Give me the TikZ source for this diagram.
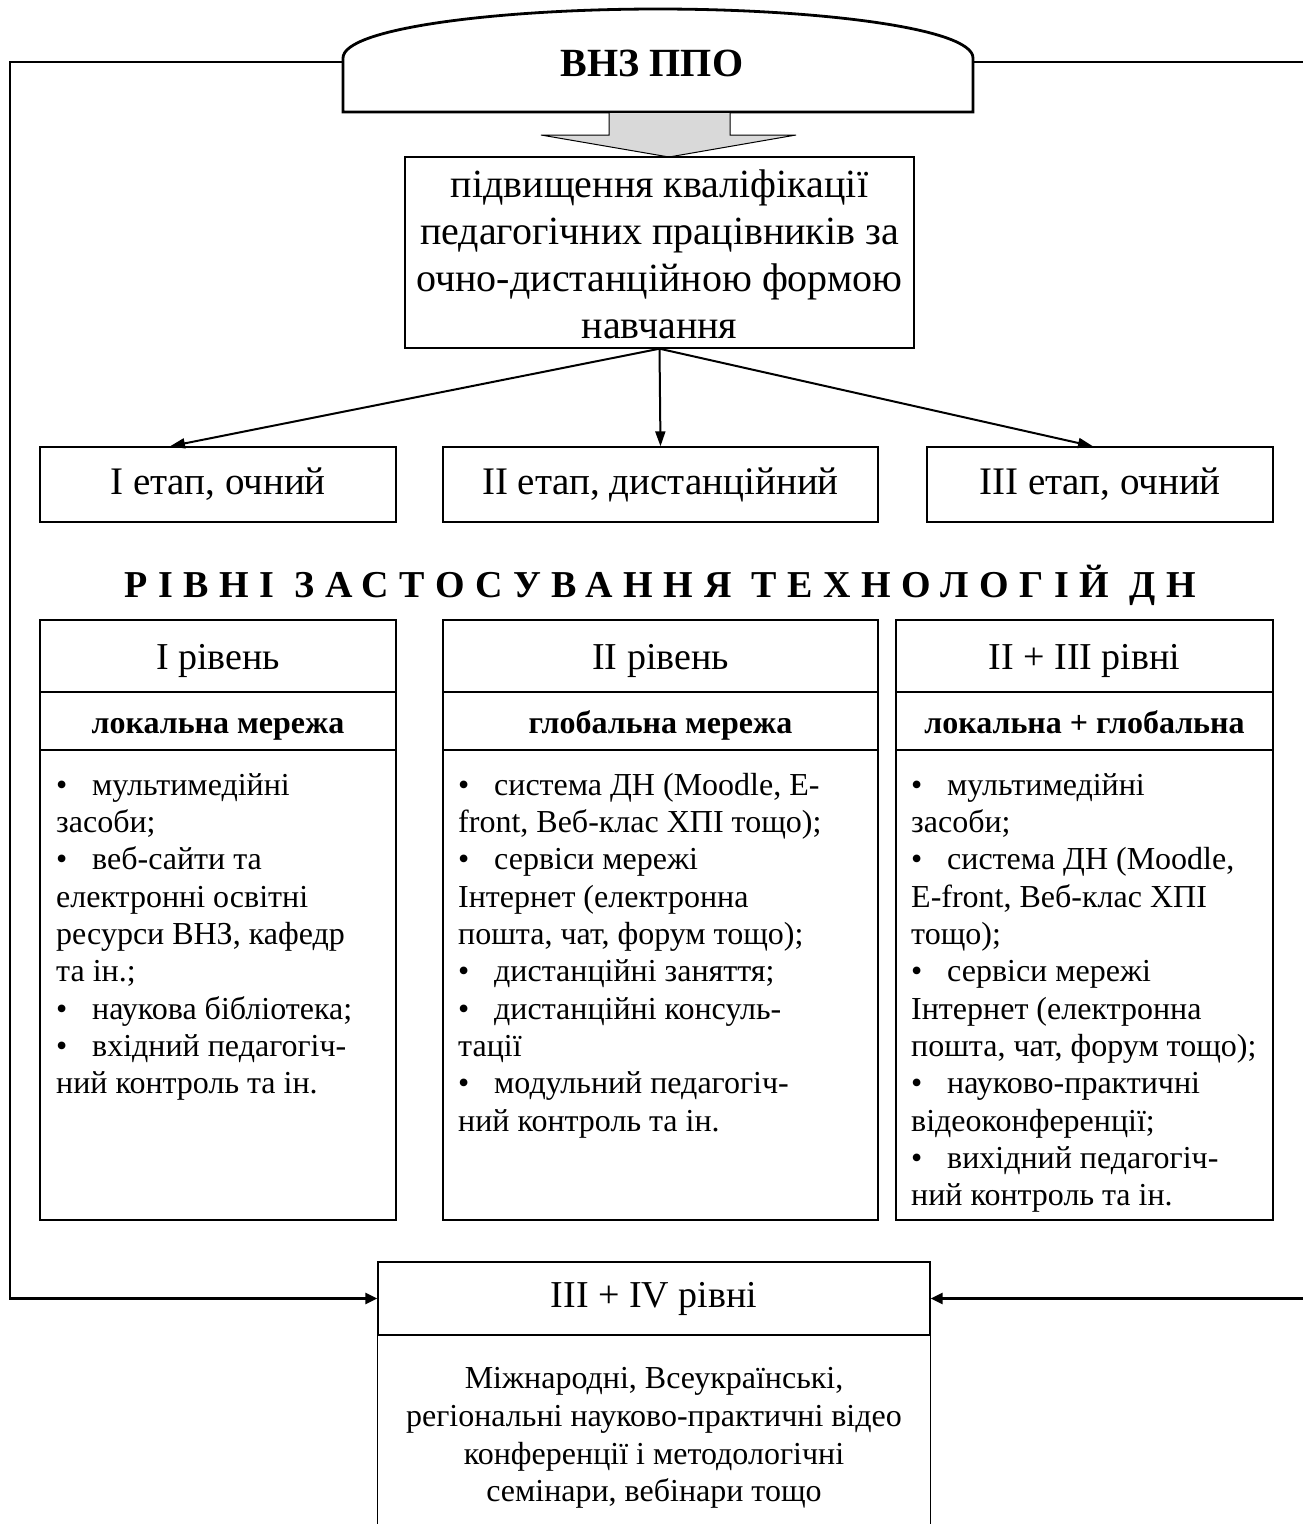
\documentclass[tikz,border=0pt]{standalone}
\usepackage{fontspec}
\setmainfont{Liberation Serif}
\usetikzlibrary{arrows.meta,calc}
\tikzset{
  boxnode/.style={draw, line width=1.4pt, inner sep=0pt, align=center},
  bigtxt/.style={font=\fontsize{39}{47}\selectfont},
  headtxt/.style={font=\fontsize{38}{44}\selectfont, inner sep=0pt, anchor=base},
  subtxt/.style={font=\fontsize{32}{36}\selectfont\bfseries, inner sep=0pt, anchor=base},
  listtxt/.style={font=\fontsize{32}{37.3}\selectfont, inner sep=0pt, align=left, anchor=north west},
  divline/.style={line width=1.4pt},
  fanarrow/.style={line width=2pt, -{Triangle[length=15pt,width=10pt]}},
  loopline/.style={line width=2.6pt, -{Triangle[length=12pt,width=11pt]}},
}
\newcommand{\bul}{\makebox[36pt][l]{•}}
\begin{document}
\begin{tikzpicture}[x=1pt,y=-1pt]
\useasboundingbox[fill=white] (0,0) rectangle (1303,1524);

% dome "ВНЗ ППО"
\draw[line width=2.8pt, fill=white] (343,112) -- (343,58)
  .. controls (343,28) and (500,9) .. (658,9)
  .. controls (816,9) and (973,28) .. (973,58) -- (973,112) -- cycle;
\coordinate (domeL) at (343,62);
\coordinate (domeR) at (973,62);
\node[font=\fontsize{40}{46}\selectfont\bfseries, inner sep=0pt] (vnz) at (652,63) {ВНЗ ППО};

% gray block arrow
\draw[line width=1pt, fill=black!15] (609,113) -- (609,135) -- (541,135) -- (669,157)
  -- (796,135) -- (730,135) -- (730,113);

% main box
\node[boxnode, minimum width=509pt, minimum height=191pt] (main) at (659.5,252.5) {};
\node[font=\fontsize{40}{47}\selectfont, inner sep=0pt, align=center] (maintxt) at (659.5,254)
  {підвищення кваліфікації\\педагогічних працівників за\\очно-дистанційною формою\\навчання};

% stages
\node[boxnode, bigtxt, minimum width=356pt, minimum height=75pt] (s1) at (218,484.5) {І етап, очний};
\node[boxnode, bigtxt, minimum width=435pt, minimum height=75pt] (s2) at (660.5,484.5) {ІІ етап, дистанційний};
\node[boxnode, bigtxt, minimum width=346pt, minimum height=75pt] (s3) at (1100,484.5) {ІІІ етап, очний};

\draw[fanarrow] (main.south) -- ([xshift=-48pt]s1.north);
\draw[fanarrow] (main.south) -- (s2.north);
\draw[fanarrow] (main.south) -- ([xshift=-7pt]s3.north);

% heading
\node[inner sep=0pt] (head) at (660,585)
  {\fontsize{38}{44}\selectfont\bfseries\addfontfeature{LetterSpace=28}РІВНІ ЗАСТОСУВАННЯ ТЕХНОЛОГІЙ ДН};

% level boxes
\node[boxnode, minimum width=356pt, minimum height=600pt] (L1) at (218,920) {};
\node[boxnode, minimum width=435pt, minimum height=600pt] (L2) at (660.5,920) {};
\node[boxnode, minimum width=377pt, minimum height=600pt] (L3) at (1084.5,920) {};

\foreach \b in {L1,L2,L3}{
  \draw[divline] (\b.west |- 0,692) -- (\b.east |- 0,692);
  \draw[divline] (\b.west |- 0,750) -- (\b.east |- 0,750);
}

\node[headtxt] (L1h) at (218,669) {І рівень};
\node[headtxt] (L2h) at (660.5,669) {ІІ рівень};
\node[headtxt] (L3h) at (1084.5,669) {ІІ + ІІІ рівні};

\node[subtxt] (L1s) at (218,733) {локальна мережа};
\node[subtxt] (L2s) at (660.5,733) {глобальна мережа};
\node[subtxt] (L3s) at (1084.5,733) {локальна + глобальна};

\node[listtxt] (L1t) at (56,769) {\strut\bul мультимедійні\\
засоби;\\
\bul веб-сайти та\\
електронні освітні\\
ресурси ВНЗ, кафедр\\
та ін.;\\
\bul наукова бібліотека;\\
\bul вхідний педагогіч-\\
ний контроль та ін.};

\node[listtxt] (L2t) at (458,769) {\strut\bul система ДН (Moodle, Е-\\
front, Веб-клас ХПІ тощо);\\
\bul сервіси мережі\\
Інтернет (електронна\\
пошта, чат, форум тощо);\\
\bul дистанційні заняття;\\
\bul дистанційні консуль-\\
тації\\
\bul модульний педагогіч-\\
ний контроль та ін.};

\node[listtxt] (L3t) at (911,769) {\strut\bul мультимедійні\\
засоби;\\
\bul система ДН (Moodle,\\
E-front, Веб-клас ХПІ\\
тощо);\\
\bul сервіси мережі\\
Інтернет (електронна\\
пошта, чат, форум тощо);\\
\bul науково-практичні\\
відеоконференції;\\
\bul вихідний педагогіч-\\
ний контроль та ін.};

% bottom box (open at the bottom edge)
\node[boxnode, font=\fontsize{38}{44}\selectfont, minimum width=552pt, minimum height=73pt] (B) at (654,1298.5) {ІІІ + ІV рівні};
\coordinate (BL) at ($(B.south west)+(0,200)$);
\coordinate (BR) at ($(B.south east)+(0,200)$);
\draw[divline] (B.south west) -- (BL);
\draw[divline] (B.south east) -- (BR);
\node[font=\fontsize{32}{37.7}\selectfont, inner sep=0pt, align=center, anchor=north] (Bt) at (654,1362)
  {\strut Міжнародні, Всеукраїнські,\\регіональні науково-практичні відео\\конференції і методологічні\\семінари, вебінари тощо};

% loop connectors
\draw[loopline] (domeL) -- (10,62) |- (B.west);
\draw[loopline] (domeR) -- (1312,62) |- (B.east);
\end{tikzpicture}
\end{document}
